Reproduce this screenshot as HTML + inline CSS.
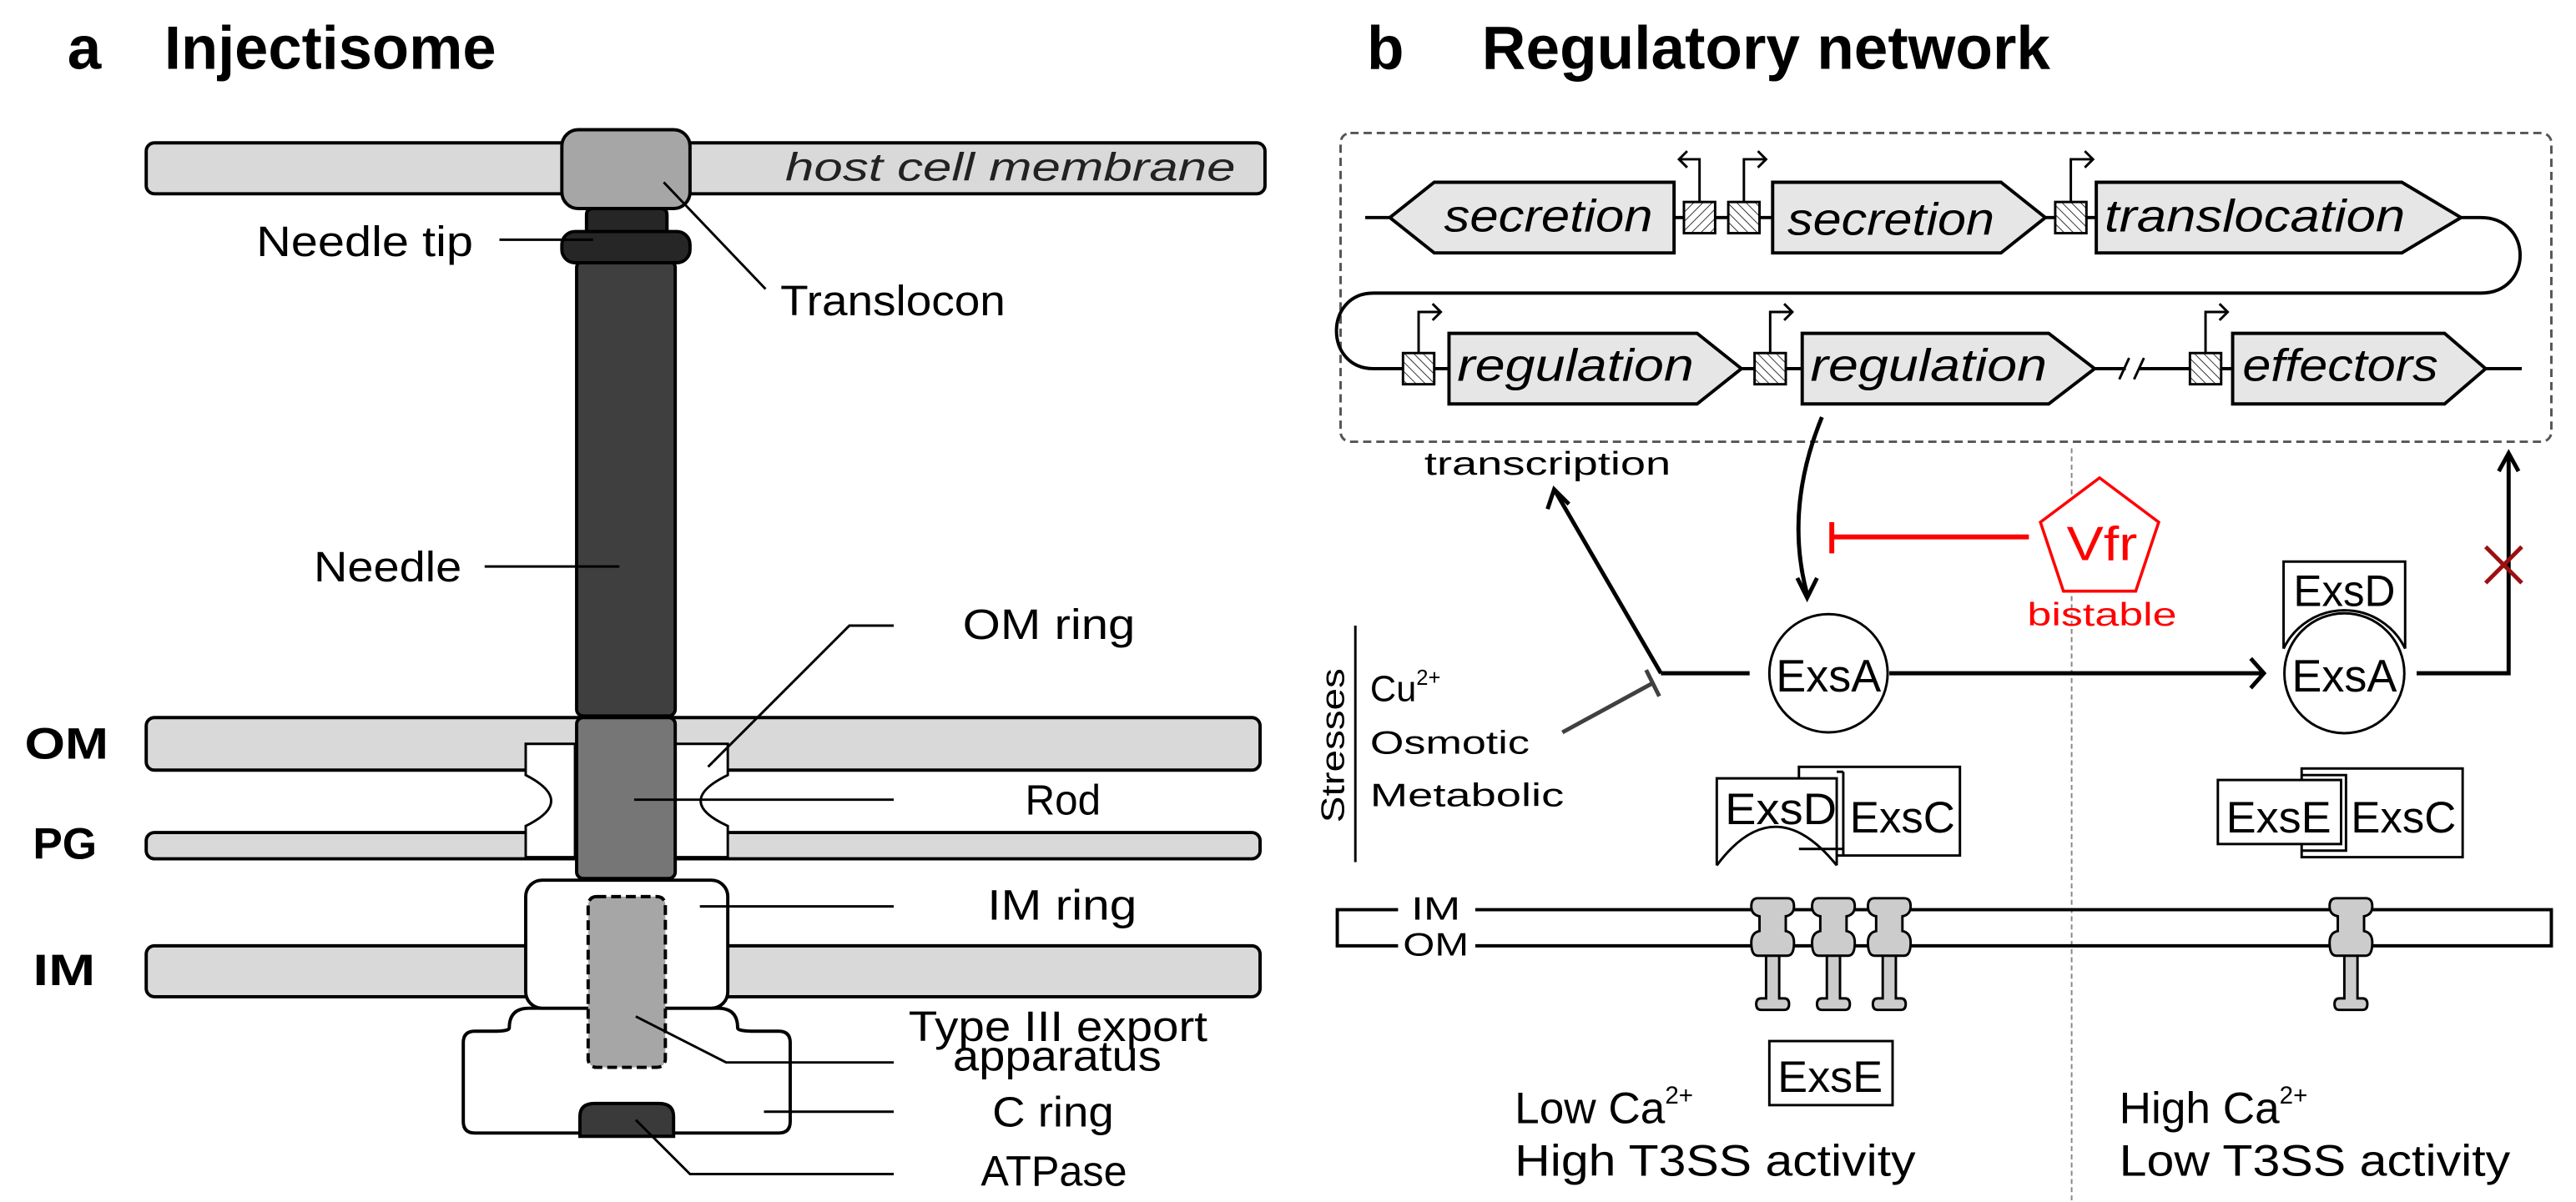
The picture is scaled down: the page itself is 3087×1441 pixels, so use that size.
<!DOCTYPE html>
<html><head><meta charset="utf-8"><style>
html,body{margin:0;padding:0;background:#fff;}
svg{display:block;}
text{font-family:"Liberation Sans",sans-serif;}
</style></head><body>
<svg width="3087" height="1441" viewBox="0 0 1568 732" preserveAspectRatio="none" xmlns="http://www.w3.org/2000/svg">
<defs>
<pattern id="h1" width="4" height="4" patternUnits="userSpaceOnUse" patternTransform="rotate(45)"><rect width="4" height="4" fill="#fff"/><line x1="0" y1="0" x2="0" y2="4" stroke="#333" stroke-width="1"/></pattern>
<pattern id="h2" width="4" height="4" patternUnits="userSpaceOnUse" patternTransform="rotate(-45)"><rect width="4" height="4" fill="#fff"/><line x1="0" y1="0" x2="0" y2="4" stroke="#333" stroke-width="1"/></pattern>
<g id="ch" stroke="#000" stroke-width="1.5" fill="#ccc">
<path d="M-4 580 V608 H-7 Q-10 608 -10 611.5 Q-10 615 -7 615 H7 Q10 615 10 611.5 Q10 608 7 608 H4 V580 Z"/>
<path d="M-9 547 H9 Q13 547 13 552 Q13 557 8 558 V567 Q13 568 13 574 Q13 582 9 582 H-9 Q-13 582 -13 574 Q-13 568 -8 567 V558 Q-13 557 -13 552 Q-13 547 -9 547 Z"/>
</g>
</defs>

<!-- Panel a -->
<text x="41" y="42" font-size="37" font-weight="bold">a</text>
<text x="100" y="42" font-size="37" font-weight="bold" textLength="202" lengthAdjust="spacingAndGlyphs">Injectisome</text>

<g stroke="#000" stroke-width="2">
<rect x="89" y="87" width="681" height="31" rx="5" fill="#d9d9d9"/>
<rect x="89" y="437" width="678" height="32" rx="5" fill="#d9d9d9"/>
<rect x="89" y="507" width="678" height="16" rx="5" fill="#d9d9d9"/>
<rect x="89" y="576" width="678" height="31" rx="5" fill="#d9d9d9"/>
<path d="M320 453 H350 V522 H320 V503 Q351 488 320 472 Z" fill="#fff" stroke-width="1.5"/>
<path d="M443 453 H410 V522 H443 V503 Q410 488 443 472 Z" fill="#fff" stroke-width="1.5"/>
<path d="M310 626 Q310 614 322 614 H437 Q449 614 449 626 Q449 628 460 628 H474 Q481 628 481 635 V683 Q481 690 474 690 H289 Q282 690 282 683 V635 Q282 628 289 628 H300 Q310 628 310 626 Z" fill="#fff"/>
<rect x="320" y="536" width="123" height="78" rx="10" fill="#fff"/>
<rect x="358" y="546" width="47" height="104" rx="5" fill="#a6a6a6" stroke-dasharray="6,3"/>
<path d="M353 692 V680 Q353 672 362 672 H401 Q410 672 410 680 V692 Z" fill="#3a3a3a"/>
<rect x="351" y="159" width="60" height="277" rx="4" fill="#3f3f3f"/>
<rect x="351" y="437" width="60" height="98" rx="4" fill="#767676"/>
<path d="M357 142 V131 Q357 127 361 127 H402 Q406 127 406 131 V142 Z" fill="#262626"/>
<rect x="342" y="141" width="78" height="19" rx="8" fill="#262626"/>
<rect x="342" y="79" width="78" height="48" rx="10" fill="#a6a6a6"/>
</g>
<text x="478" y="110" font-size="24" font-style="italic" fill="#222" textLength="274" lengthAdjust="spacingAndGlyphs">host cell membrane</text>

<g stroke="#000" stroke-width="1.5" fill="none">
<line x1="304" y1="146" x2="361" y2="146"/>
<line x1="404" y1="111" x2="466" y2="176"/>
<line x1="295" y1="345" x2="377" y2="345"/>
<polyline points="431,467 517,381 544,381"/>
<line x1="386" y1="487" x2="544" y2="487"/>
<line x1="426" y1="552" x2="544" y2="552"/>
<polyline points="387,619 442,647 544,647"/>
<line x1="465" y1="677" x2="544" y2="677"/>
<polyline points="387,682 420,715 544,715"/>
</g>
<g font-size="26">
<text x="156" y="156" textLength="132" lengthAdjust="spacingAndGlyphs">Needle tip</text>
<text x="475" y="192" textLength="137" lengthAdjust="spacingAndGlyphs">Translocon</text>
<text x="191" y="354" textLength="90" lengthAdjust="spacingAndGlyphs">Needle</text>
<text x="586" y="389" textLength="105" lengthAdjust="spacingAndGlyphs">OM ring</text>
<text x="624" y="496" textLength="46" lengthAdjust="spacingAndGlyphs">Rod</text>
<text x="601" y="560" textLength="91" lengthAdjust="spacingAndGlyphs">IM ring</text>
<text x="553" y="634" textLength="182" lengthAdjust="spacingAndGlyphs">Type III export</text>
<text x="580" y="652" textLength="127" lengthAdjust="spacingAndGlyphs">apparatus</text>
<text x="604" y="686" textLength="74" lengthAdjust="spacingAndGlyphs">C ring</text>
<text x="597" y="722" textLength="89" lengthAdjust="spacingAndGlyphs">ATPase</text>
</g>
<g font-size="27" font-weight="bold">
<text x="15" y="462" textLength="51" lengthAdjust="spacingAndGlyphs">OM</text>
<text x="20" y="523" textLength="39" lengthAdjust="spacingAndGlyphs">PG</text>
<text x="20" y="600" textLength="38" lengthAdjust="spacingAndGlyphs">IM</text>
</g>

<!-- Panel b -->
<text x="832" y="42" font-size="37" font-weight="bold">b</text>
<text x="902" y="42" font-size="37" font-weight="bold" textLength="346" lengthAdjust="spacingAndGlyphs">Regulatory network</text>

<rect x="816" y="81" width="737" height="188" rx="6" fill="none" stroke="#555" stroke-width="1.5" stroke-dasharray="5,3"/>

<g stroke="#000" stroke-width="2" fill="none">
<line x1="831" y1="132.5" x2="846" y2="132.5"/>
<line x1="1019" y1="132.5" x2="1079" y2="132.5"/>
<line x1="1245" y1="132.5" x2="1276" y2="132.5"/>
<path d="M1498 132.5 H1510 C1542 132.5 1542 178.5 1510 178.5 H836 C806 178.5 806 224.5 836 224.5 H882"/>
<line x1="1060" y1="224.5" x2="1097" y2="224.5"/>
<line x1="1275" y1="224.5" x2="1294" y2="224.5"/>
<line x1="1302" y1="224.5" x2="1333" y2="224.5"/>
<line x1="1352" y1="224.5" x2="1359" y2="224.5"/>
<line x1="1513" y1="224.5" x2="1535" y2="224.5"/>
<line x1="1290" y1="231" x2="1296" y2="218" stroke-width="1.5"/>
<line x1="1299" y1="231" x2="1305" y2="218" stroke-width="1.5"/>
</g>
<g stroke="#000" stroke-width="2" fill="#e6e6e6">
<polygon points="846,132.5 873,111 1019,111 1019,154 873,154"/>
<polygon points="1079,111 1218,111 1245,132.5 1218,154 1079,154"/>
<polygon points="1276,111 1462,111 1498,132.5 1462,154 1276,154"/>
<polygon points="882,203 1033,203 1060,224.5 1033,246 882,246"/>
<polygon points="1097,203 1247,203 1275,224.5 1247,246 1097,246"/>
<polygon points="1359,203 1488,203 1513,224.5 1488,246 1359,246"/>
</g>
<g stroke="#000" stroke-width="1.5">
<rect x="1025" y="123" width="19" height="19" fill="url(#h1)"/>
<rect x="1052" y="123" width="19" height="19" fill="url(#h2)"/>
<rect x="1251" y="123" width="19" height="19" fill="url(#h2)"/>
<rect x="854" y="215" width="19" height="19" fill="url(#h2)"/>
<rect x="1068" y="215" width="19" height="19" fill="url(#h2)"/>
<rect x="1333" y="215" width="19" height="19" fill="url(#h2)"/>
</g>
<g stroke="#000" stroke-width="1.5" fill="none">
<polyline points="1034.5,123 1034.5,97 1022,97"/><polyline points="1027,92 1022,97 1027,102"/>
<polyline points="1061.5,123 1061.5,97 1075,97"/><polyline points="1070,92 1075,97 1070,102"/>
<polyline points="1260.5,123 1260.5,97 1274,97"/><polyline points="1269,92 1274,97 1269,102"/>
<polyline points="863.5,215 863.5,190 877,190"/><polyline points="872,185 877,190 872,195"/>
<polyline points="1077.5,215 1077.5,190 1091,190"/><polyline points="1086,185 1091,190 1086,195"/>
<polyline points="1342.5,215 1342.5,190 1356,190"/><polyline points="1351,185 1356,190 1351,195"/>
</g>
<g font-size="28" font-style="italic">
<text x="879" y="141" textLength="127" lengthAdjust="spacingAndGlyphs">secretion</text>
<text x="1088" y="143" textLength="126" lengthAdjust="spacingAndGlyphs">secretion</text>
<text x="1281" y="141" textLength="183" lengthAdjust="spacingAndGlyphs">translocation</text>
<text x="887" y="232" textLength="144" lengthAdjust="spacingAndGlyphs">regulation</text>
<text x="1102" y="232" textLength="144" lengthAdjust="spacingAndGlyphs">regulation</text>
<text x="1365" y="232" textLength="119" lengthAdjust="spacingAndGlyphs">effectors</text>
</g>

<line x1="1261" y1="273" x2="1261" y2="732" stroke="#888" stroke-width="1" stroke-dasharray="3,2"/>

<text x="867" y="289" font-size="20" textLength="150" lengthAdjust="spacingAndGlyphs">transcription</text>

<g stroke="#000" stroke-width="2.5" fill="none">
<path d="M1109 254 Q1086 310 1100 362"/>
<polyline points="1094,352 1100,364 1106,352"/>
<polyline points="1011,410 946,298"/>
<polyline points="942,310 946,298 955,307"/>
<line x1="1011" y1="410" x2="1065" y2="410"/>
<line x1="1150" y1="410" x2="1377" y2="410"/>
<polyline points="1370,401 1378,410 1370,419"/>
<polyline points="1471,410 1527,410 1527,276"/>
<polyline points="1521,287 1527,276 1533,287"/>
</g>
<g stroke="#404040" stroke-width="2.5">
<line x1="951" y1="446" x2="1006" y2="416"/>
<line x1="1002" y1="408" x2="1010" y2="424"/>
</g>
<g stroke="#9b1010" stroke-width="2.5">
<line x1="1513" y1="333" x2="1535" y2="355"/>
<line x1="1535" y1="333" x2="1513" y2="355"/>
</g>
<g stroke="#f00" stroke-width="3">
<line x1="1115" y1="327" x2="1235" y2="327"/>
<line x1="1115" y1="318" x2="1115" y2="337"/>
</g>
<polygon points="1278,291 1314,318 1300,360 1256,360 1242,318" fill="#fff" stroke="#f00" stroke-width="1.8"/>
<text x="1258" y="341" font-size="29" fill="#f00" textLength="43" lengthAdjust="spacingAndGlyphs">Vfr</text>
<text x="1234" y="381" font-size="20" fill="#f00" textLength="91" lengthAdjust="spacingAndGlyphs">bistable</text>

<circle cx="1113" cy="410" r="36" fill="#fff" stroke="#000" stroke-width="1.5"/>
<text x="1081" y="421" font-size="28" textLength="64" lengthAdjust="spacingAndGlyphs">ExsA</text>
<path d="M1390 395 V342 H1464 V395" fill="#fff" stroke="#000" stroke-width="1.5"/>
<path d="M1390 395 A41 41 0 0 1 1464 395" fill="#fff" stroke="#000" stroke-width="1.5"/>
<circle cx="1427" cy="410" r="36.5" fill="#fff" stroke="#000" stroke-width="1.5"/>
<text x="1396" y="369" font-size="27" textLength="62" lengthAdjust="spacingAndGlyphs">ExsD</text>
<text x="1395" y="421" font-size="28" textLength="64" lengthAdjust="spacingAndGlyphs">ExsA</text>

<text transform="translate(818,454) rotate(-90)" text-anchor="middle" font-size="20" textLength="94" lengthAdjust="spacingAndGlyphs">Stresses</text>
<line x1="825" y1="381" x2="825" y2="525" stroke="#000" stroke-width="1.5"/>
<text x="834" y="427" font-size="22">Cu<tspan font-size="13" dy="-10">2+</tspan></text>
<text x="834" y="459" font-size="20" textLength="97" lengthAdjust="spacingAndGlyphs">Osmotic</text>
<text x="834" y="491" font-size="20" textLength="118" lengthAdjust="spacingAndGlyphs">Metabolic</text>

<g stroke="#000" stroke-width="1.5">
<rect x="1095" y="467" width="98" height="54" fill="#fff"/>
<path d="M1045 527 V474 H1118 V527" fill="#fff"/>
<path d="M1045 527 Q1080 480 1118 527" fill="#fff"/>
<line x1="1122" y1="470" x2="1122" y2="521" />
<line x1="1118" y1="470" x2="1122" y2="470"/>
<line x1="1095" y1="517" x2="1122" y2="517"/>
</g>
<text x="1050" y="502" font-size="27" textLength="68" lengthAdjust="spacingAndGlyphs">ExsD</text>
<text x="1126" y="507" font-size="27" textLength="64" lengthAdjust="spacingAndGlyphs">ExsC</text>
<g stroke="#000" stroke-width="1.5" fill="#fff">
<rect x="1401" y="468" width="98" height="54"/>
<rect x="1350" y="475" width="75" height="39"/>
<polyline points="1401,472 1428,472 1428,518 1401,518" fill="none"/>
</g>
<text x="1355" y="507" font-size="27" textLength="64" lengthAdjust="spacingAndGlyphs">ExsE</text>
<text x="1431" y="507" font-size="27" textLength="64" lengthAdjust="spacingAndGlyphs">ExsC</text>

<g stroke="#000" stroke-width="2" fill="none">
<polyline points="851,554 814,554 814,576 851,576"/>
<polyline points="898,554 1553,554 1553,576 898,576"/>
</g>
<text x="859" y="560" font-size="20" textLength="30" lengthAdjust="spacingAndGlyphs">IM</text>
<text x="854" y="582" font-size="20" textLength="40" lengthAdjust="spacingAndGlyphs">OM</text>

<use href="#ch" x="1079" y="0"/>
<use href="#ch" x="1116" y="0"/>
<use href="#ch" x="1150" y="0"/>
<use href="#ch" x="1431" y="0"/>

<rect x="1077" y="634" width="75" height="39" fill="#fff" stroke="#000" stroke-width="1.5"/>
<text x="1082" y="665" font-size="27" textLength="64" lengthAdjust="spacingAndGlyphs">ExsE</text>

<g font-size="27">
<text x="922" y="684">Low Ca<tspan font-size="15" dy="-12">2+</tspan></text>
<text x="922" y="716" textLength="244" lengthAdjust="spacingAndGlyphs">High T3SS activity</text>
<text x="1290" y="684">High Ca<tspan font-size="15" dy="-12">2+</tspan></text>
<text x="1290" y="716" textLength="238" lengthAdjust="spacingAndGlyphs">Low T3SS activity</text>
</g>
</svg>
</body></html>
